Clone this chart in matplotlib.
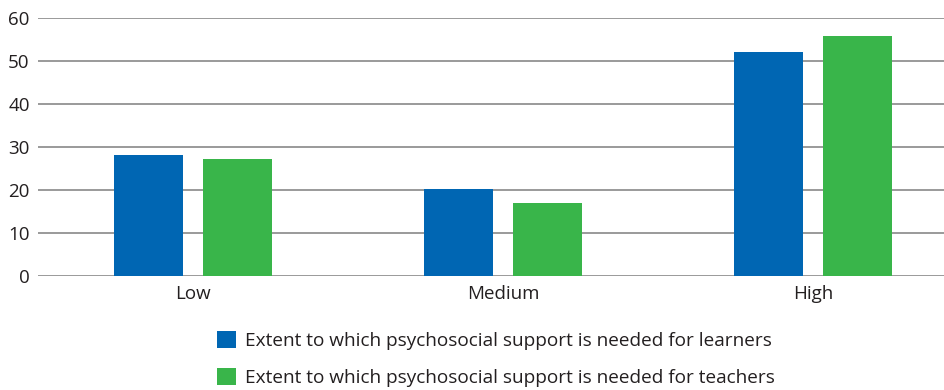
import matplotlib
matplotlib.use("Agg")
import matplotlib.pyplot as plt
from matplotlib.patches import Patch
import numpy as np

plt.rcParams['font.family'] = ['Open Sans', 'DejaVu Sans']

categories = ["Low", "Medium", "High"]
learners = [28.1, 20.2, 52.1]
teachers = [27.2, 16.9, 55.9]
series_labels = ["Extent to which psychosocial support is needed for learners",
                 "Extent to which psychosocial support is needed for teachers"]
colors = ["#0066B3", "#39B54A"]
yticks = [0, 10, 20, 30, 40, 50, 60]

W, H = 944, 390
fig = plt.figure(figsize=(W/100, H/100), dpi=100)
left, right = 38/W, 944/W
bottom, top = (H-275.7)/H, (H-18.3)/H
ax = fig.add_axes([left, bottom, right-left, top-bottom])

x = np.arange(len(categories))
bw = 0.2226
off = 0.1435
ax.bar(x - off, learners, bw, color=colors[0], zorder=3)
ax.bar(x + off, teachers, bw, color=colors[1], zorder=3)

ax.set_xlim(-0.5, -0.5 + 906/310)
ax.set_ylim(0, 60)
ax.set_yticks(yticks)
ax.set_xticks(x)
ax.set_xticklabels(categories)
ax.grid(axis='y', color='#9a9a9a', linewidth=1.4, zorder=0)
ax.set_axisbelow(True)
for s in ax.spines.values():
    s.set_visible(False)
ax.tick_params(axis='both', length=0, labelsize=13.5, colors='#231f20')
ax.tick_params(axis='y', pad=6)
ax.tick_params(axis='x', pad=7)

handles = [Patch(facecolor=c, edgecolor='none') for c in colors]
fig.legend(handles, series_labels, loc='upper left', bbox_to_anchor=(217/W, 1 - 331/H),
           frameon=False, fontsize=13.7, handlelength=0.98, handleheight=0.98,
           handletextpad=0.5, labelspacing=0.95, borderpad=0, borderaxespad=0,
           labelcolor='#231f20')

fig.savefig("out.png", dpi=100)
